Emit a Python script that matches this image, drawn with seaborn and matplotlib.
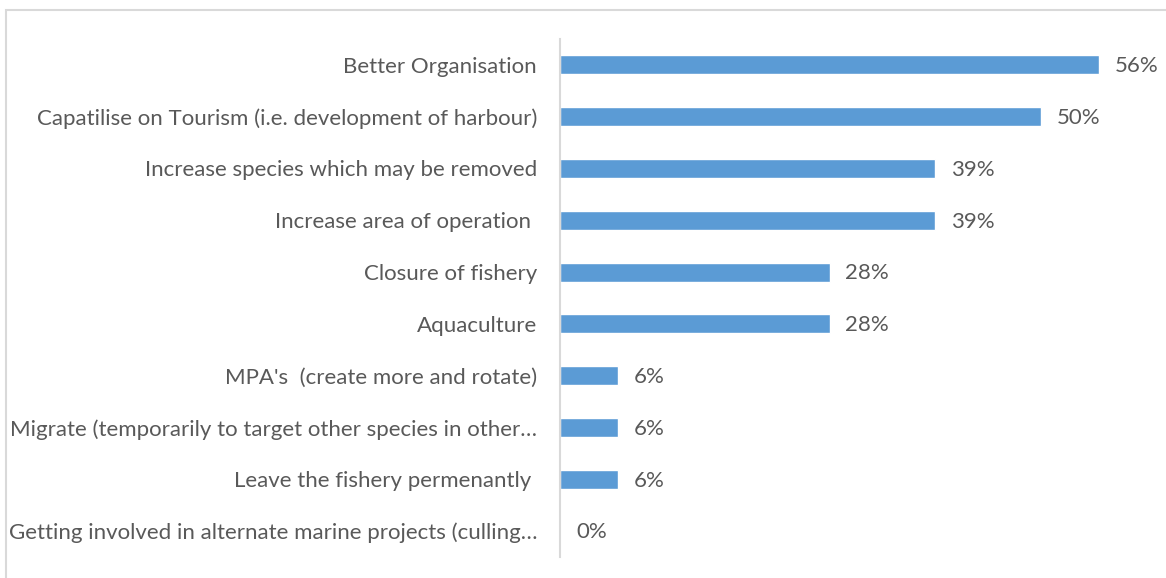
import matplotlib
matplotlib.use("Agg")
import matplotlib.pyplot as plt
from matplotlib.patches import Rectangle
import seaborn as sns
import pandas as pd

categories = [
    "Better Organisation",
    "Capatilise on Tourism (i.e. development of harbour)",
    "Increase species which may be removed",
    "Increase area of operation ",
    "Closure of fishery",
    "Aquaculture",
    "MPA's  (create more and rotate)",
    "Migrate (temporarily to target other species in other\u2026",
    "Leave the fishery permenantly ",
    "Getting involved in alternate marine projects (culling\u2026",
]
percentages = [56, 50, 39, 39, 28, 28, 6, 6, 6, 0]

df = pd.DataFrame({"option": categories, "pct": percentages})

sns.set_theme(style="white")
plt.rcParams["font.family"] = ["Lato", "DejaVu Sans"]

text_color = "#595959"
bar_color = "#5B9BD5"
axis_gray = "#D9D9D9"

fig = plt.figure(figsize=(11.66, 5.78), dpi=100)
W, H = 1166, 578
ax = fig.add_axes([560 / W, 21 / H, (1137.5 - 560) / W, (557 - 39) / H])

sns.barplot(data=df, x="pct", y="option", orient="h", color=bar_color,
            saturation=1, width=0.37, ax=ax)

ax.set_xlim(0, 60)
ax.set_ylim(len(categories) - 0.5, -0.5)
ax.set_xlabel("")
ax.set_ylabel("")
ax.set_xticks([])
ax.tick_params(axis="y", length=0, pad=16.5, labelsize=16, labelcolor=text_color)

for side in ["top", "right", "bottom"]:
    ax.spines[side].set_visible(False)
ax.spines["left"].set_color(axis_gray)
ax.spines["left"].set_linewidth(1.5)

for i, v in enumerate(percentages):
    ax.annotate(f"{v}%", xy=(v, i), xytext=(11.5, -1), textcoords="offset points",
                va="center", ha="left", fontsize=16, color=text_color)

# light frame around the chart area
fig.patches.append(Rectangle((6 / W, -0.05), 1.1, 1 - 10 / H + 0.05,
                             transform=fig.transFigure, fill=False,
                             edgecolor=axis_gray, linewidth=1.5))

fig.savefig("out.png", dpi=100, facecolor="white")
